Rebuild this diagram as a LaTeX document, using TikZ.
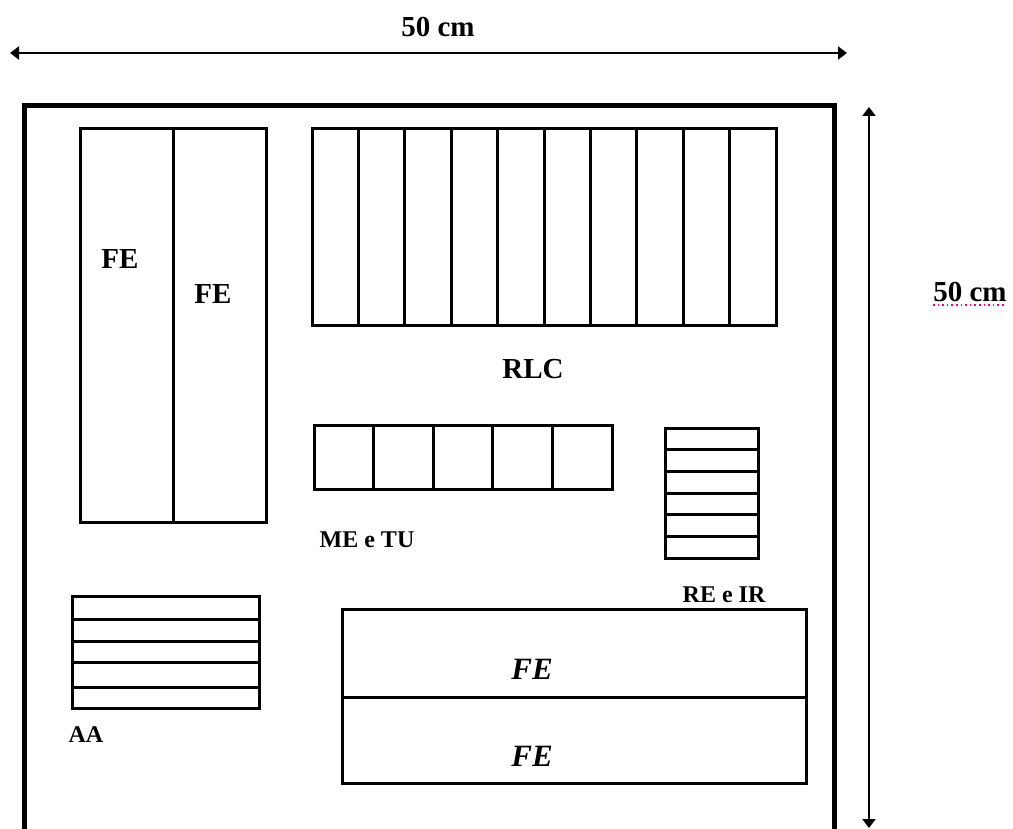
\documentclass[tikz,border=0pt]{standalone}
\usepackage{fontspec}
\setmainfont{Liberation Serif}
\usetikzlibrary{arrows.meta}
\begin{document}
\begin{tikzpicture}[x=1pt,y=-1pt,
  box/.style={draw=black,line width=3pt},
  wall/.style={draw=black,line width=5pt},
  dimline/.style={draw=black,line width=2.6pt,{Triangle[width=13pt,length=9pt]}-{Triangle[width=13pt,length=9pt]}},
  biglabel/.style={font=\fontsize{29}{34}\selectfont\bfseries,inner sep=0pt},
  smalllabel/.style={font=\fontsize{24}{28}\selectfont\bfseries,inner sep=0pt},
  itlabel/.style={font=\fontsize{31}{36}\selectfont\bfseries\itshape,inner sep=0pt}]
\useasboundingbox (0,0) rectangle (1013,829);
\begin{scope}
\clip (0,0) rectangle (1013,829);
% outer wall (open at the bottom)
\draw[wall] (24,840) -- (24,106) -- (834,106) -- (834,840);
\end{scope}
% dimension arrows
\coordinate (hL) at (10,53);
\coordinate (hR) at (847,53);
\draw[dimline] (hL) -- (hR);
\node[biglabel] (wtop) at (438,27) {50 cm};
\coordinate (vT) at (869,107);
\coordinate (vB) at (869,828);
\draw[dimline,line width=2.2pt] (vT) -- (vB);
\node[biglabel] (wright) at (970,292) {50 cm};
\draw[magenta,line width=1.6pt,dash pattern=on 1.6pt off 3pt] (933,305) -- (1006,305);
% left FE block
\draw[box] (80,129) rectangle (266,522);
\draw[box] (173,129) -- (173,522);
\node[biglabel] (fe1) at (120,259) {FE};
\node[biglabel] (fe2) at (213,294) {FE};
% RLC
\draw[box] (312,129) rectangle (776,326);
\foreach \i in {1,...,9} \draw[box] (312+46.4*\i,129) -- (312+46.4*\i,326);
\node[biglabel] (rlc) at (533,369) {RLC};
% ME e TU
\draw[box] (314,425) rectangle (612,489);
\foreach \i in {1,...,4} \draw[box] (314+59.6*\i,425) -- (314+59.6*\i,489);
\node[smalllabel] (metu) at (367,540) {ME e TU};
% RE e IR
\draw[box] (665,428) rectangle (758,558);
\foreach \i in {1,...,5} \draw[box] (665,428+21.67*\i) -- (758,428+21.67*\i);
\node[smalllabel] (reir) at (724,595) {RE e IR};
% AA
\draw[box] (72,596) rectangle (259,708);
\foreach \yy in {619,641,662,687} \draw[box] (72,\yy) -- (259,\yy);
\node[smalllabel] (aa) at (86,735) {AA};
% bottom FE block
\draw[box] (342,609) rectangle (806,783);
\draw[box] (342,697) -- (806,697);
\node[itlabel] (fe3) at (532,669) {FE};
\node[itlabel] (fe4) at (532,756) {FE};
\end{tikzpicture}
\end{document}
